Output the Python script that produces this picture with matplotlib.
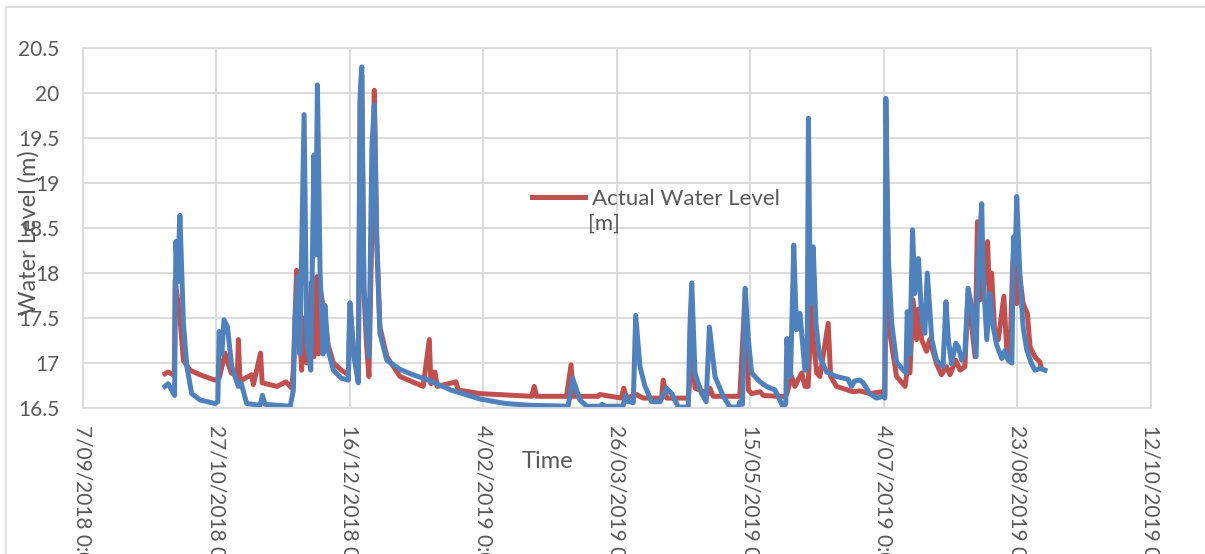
import pandas as pd
import matplotlib
matplotlib.use('Agg')
import matplotlib.pyplot as plt
import matplotlib.ticker as mticker
from matplotlib.patches import Rectangle

plt.rcParams['font.family'] = ['Lato', 'DejaVu Sans']

# start of the x axis, x values are days after this
start = pd.Timestamp('2018-09-07')
x_end = pd.Timestamp('2019-10-12')
tick_step_days = 50

# blue series (second water level series, no legend entry)
blue_day = [30.7, 31.9, 34.3, 34.8, 35.4, 36.3, 37.6, 38.9, 40.7, 43.8, 49.4, 50.5, 51.0, 52.0, 52.8,
            54.1, 55.7, 58.2, 59.2, 61.3, 66.3, 67.2, 68.2, 77.6, 78.8, 79.4, 80.6, 81.2, 82.8, 83.8,
            85.3, 86.5, 87.1, 87.8, 88.8, 89.9, 90.6, 91.8, 93.8, 96.8, 99.4, 99.7, 100.0, 101.5, 103.1,
            103.8, 104.4, 105.2, 106.2, 107.1, 108.2, 109.1, 110.0, 111.2, 113.8, 118.7, 123.5, 129.3,
            137.8, 148.7, 158.2, 167.3, 181.7, 183.4, 186.1, 188.7, 193.6, 194.4, 195.5, 202.2, 203.3,
            204.1, 206.1, 207.0, 208.6, 210.5, 213.0, 216.1, 218.6, 220.5, 223.0, 226.7, 227.3, 228.0,
            229.2, 231.7, 233.4, 234.6, 236.7, 239.8, 242.3, 245.4, 246.0, 247.0, 248.0, 249.2, 250.4,
            253.6, 256.0, 259.2, 262.2, 263.2, 263.6, 265.0, 266.2, 267.2, 268.5, 270.4, 271.2, 271.7,
            272.4, 273.5, 274.5, 275.9, 278.5, 282.1, 286.5, 287.8, 289.0, 291.0, 292.2, 294.7, 297.2,
            299.7, 300.3, 300.7, 301.6, 302.9, 304.7, 307.2, 308.2, 308.7, 309.7, 310.7, 311.5, 312.9,
            314.1, 315.3, 316.2, 317.9, 319.7, 322.1, 323.2, 324.1, 325.3, 326.9, 327.8, 329.1, 330.3,
            331.5, 332.9, 334.5, 335.3, 336.6, 337.1, 338.5, 339.7, 340.9, 342.2, 344.1, 345.3, 346.5,
            347.9, 348.5, 349.1, 349.7, 350.9, 352.1, 353.5, 355.3, 356.5, 358.4, 360.3]
blue_level = [16.74, 16.77, 16.64, 18.35, 17.90, 18.64, 17.44, 16.96, 16.66, 16.59, 16.55, 16.57, 17.35,
              17.10, 17.48, 17.40, 16.96, 16.74, 16.78, 16.55, 16.53, 16.64, 16.54, 16.52, 16.70, 17.51,
              17.96, 17.10, 19.76, 17.26, 16.92, 19.31, 18.20, 20.09, 18.00, 17.10, 17.64, 17.14, 16.92,
              16.83, 16.81, 17.37, 17.67, 17.07, 16.78, 19.96, 20.29, 17.85, 17.40, 17.07, 19.40, 19.87,
              18.37, 17.33, 17.03, 16.93, 16.87, 16.81, 16.70, 16.60, 16.55, 16.53, 16.52, 16.83, 16.59,
              16.52, 16.52, 16.54, 16.52, 16.52, 16.64, 16.57, 16.56, 17.53, 16.96, 16.74, 16.57, 16.57,
              16.72, 16.66, 16.51, 16.51, 17.40, 17.89, 16.89, 16.66, 16.57, 17.40, 16.85, 16.63, 16.51,
              16.51, 16.57, 16.54, 17.83, 17.26, 16.89, 16.79, 16.74, 16.70, 16.51, 16.55, 17.27, 16.85,
              18.31, 17.37, 17.55, 16.92, 16.95, 19.72, 17.66, 18.29, 17.44, 17.07, 16.90, 16.85, 16.82,
              16.74, 16.80, 16.81, 16.78, 16.66, 16.61, 16.63, 16.61, 19.94, 18.18, 17.44, 17.01, 16.92,
              16.89, 17.57, 17.10, 18.48, 17.77, 18.16, 17.51, 17.33, 18.00, 17.26, 17.03, 16.96, 17.68,
              17.26, 16.99, 17.22, 17.18, 17.03, 17.12, 17.83, 17.62, 17.07, 18.11, 18.77, 18.00, 17.26,
              17.77, 17.40, 17.20, 17.05, 17.14, 17.03, 17.00, 18.40, 18.10, 18.85, 17.96, 17.40, 17.14,
              16.99, 16.92, 16.94, 16.92]

# red series, actual water level [m]
red_day = [30.7, 31.9, 34.2, 34.5, 36.3, 37.6, 40.1, 43.8, 49.4, 51.0, 53.2, 55.5, 57.8, 58.2, 58.8,
           63.2, 63.8, 66.5, 67.1, 72.6, 76.0, 78.2, 78.8, 80.0, 81.9, 82.8, 83.8, 85.6, 86.5, 87.6,
           88.2, 89.0, 90.6, 91.8, 93.8, 96.8, 99.4, 100.0, 101.5, 103.1, 103.8, 104.4, 105.2, 106.2,
           107.1, 108.2, 109.1, 110.0, 111.2, 113.8, 118.7, 127.4, 129.7, 130.3, 131.8, 132.7, 139.7,
           140.5, 148.7, 168.1, 169.0, 169.9, 181.1, 182.8, 183.6, 192.9, 193.6, 201.7, 202.5, 203.6,
           207.3, 209.8, 216.7, 217.3, 218.6, 226.7, 228.4, 229.2, 234.2, 234.8, 236.0, 246.0, 248.0,
           249.2, 250.4, 253.6, 254.8, 259.8, 262.9, 263.6, 265.4, 266.6, 269.2, 270.4, 271.6, 272.9,
           273.5, 274.8, 276.0, 279.1, 280.0, 282.2, 288.5, 291.0, 294.7, 299.1, 300.3, 301.0, 302.2,
           304.7, 307.9, 308.7, 309.7, 310.9, 312.2, 312.9, 314.1, 315.9, 317.1, 319.7, 321.5, 323.4,
           324.7, 326.9, 328.5, 330.3, 331.5, 334.1, 335.0, 335.9, 337.1, 338.8, 339.7, 340.3, 341.5,
           342.8, 344.9, 345.9, 347.1, 348.2, 349.0, 349.7, 350.9, 352.1, 353.7, 354.7, 356.5, 358.4,
           359.0]
red_level = [16.88, 16.90, 16.86, 17.92, 17.51, 17.03, 16.92, 16.87, 16.81, 16.83, 17.11, 16.89, 16.85,
             17.26, 16.80, 16.87, 16.76, 17.11, 16.78, 16.74, 16.79, 16.72, 16.94, 18.03, 16.92, 17.50,
             17.00, 17.90, 17.07, 17.96, 17.10, 17.80, 17.50, 17.20, 17.00, 16.92, 16.87, 17.60, 17.10,
             16.85, 19.90, 20.20, 17.80, 17.20, 16.85, 18.50, 20.03, 18.40, 17.40, 17.07, 16.85, 16.74,
             17.26, 16.77, 16.90, 16.74, 16.79, 16.70, 16.66, 16.63, 16.74, 16.63, 16.63, 16.98, 16.63,
             16.63, 16.65, 16.61, 16.72, 16.61, 16.65, 16.61, 16.61, 16.81, 16.61, 16.61, 17.18, 16.72,
             16.66, 16.72, 16.63, 16.63, 17.78, 16.70, 16.66, 16.68, 16.64, 16.63, 16.63, 16.66, 16.85,
             16.74, 16.89, 16.74, 16.74, 17.66, 17.26, 16.89, 16.85, 17.44, 16.85, 16.74, 16.68, 16.69,
             16.66, 16.68, 16.64, 19.00, 17.33, 16.85, 16.74, 16.92, 16.89, 17.70, 17.26, 17.60, 17.26,
             17.13, 17.26, 16.99, 16.87, 16.96, 16.87, 17.03, 16.92, 16.96, 17.77, 17.07, 18.57, 17.70,
             17.77, 18.35, 17.51, 18.00, 17.33, 17.26, 17.74, 17.18, 17.03, 18.10, 18.40, 17.66, 17.96,
             17.66, 17.55, 17.18, 17.07, 17.01, 16.94]

y_ticks = [16.5, 17, 17.5, 18, 18.5, 19, 19.5, 20, 20.5]

red_t = start + pd.to_timedelta(red_day, unit='D')
blue_t = start + pd.to_timedelta(blue_day, unit='D')

grey = '#D9D9D9'
txt = '#595959'

fig = plt.figure(figsize=(12.05, 5.54), dpi=100)
# outer chart frame (right and bottom run off the picture)
fig.patches.append(Rectangle((6 / 1205, -0.2), 1.2, 1.2 - 7 / 554, transform=fig.transFigure,
                             fill=False, edgecolor=grey, linewidth=1.2))

ax = fig.add_axes([83 / 1205, 1 - 408 / 554, 1068 / 1205, 360 / 554])
ax.plot(red_t, red_level, color='#C0504D', lw=3.6, solid_joinstyle='round', label='Actual Water Level')
ax.plot(blue_t, blue_level, color='#4F81BD', lw=3.6, solid_joinstyle='round')

ticks = pd.date_range(start, x_end, freq=f'{tick_step_days}D')
ax.set_xlim(start, x_end)
ax.set_xticks(ticks)
ax.set_xticklabels([f'{d.day}/{d.month:02d}/{d.year} {d.hour}:{d.minute:02d}' for d in ticks],
                   rotation=270, ha='center', va='top')
ax.set_ylim(16.5, 20.5)
ax.set_yticks(y_ticks)
ax.yaxis.set_major_formatter(mticker.FuncFormatter(lambda v, p: f'{v:g}'))

ax.grid(True, color=grey, lw=1.3)
ax.set_axisbelow(True)
for s in ax.spines.values():
    s.set_color(grey)
    s.set_linewidth(1.3)
ax.tick_params(length=0, labelsize=15, colors=txt)
ax.tick_params(axis='y', pad=17)
ax.tick_params(axis='x', pad=12)

fig.text(29 / 1205, 1 - 233 / 554, 'Water Level (m)', rotation=90, ha='center', va='center',
         fontsize=17, color=txt)
fig.text(547 / 1205, 1 - 462 / 554, 'Time', ha='center', va='center', fontsize=17, color=txt)

ax.legend(loc='upper left', bbox_to_anchor=(440 / 1068, 1 - (180 - 48) / 360), frameon=False,
          fontsize=16, labelcolor=txt, handlelength=2.4, handletextpad=0.3, borderaxespad=0)
ax.text((588 - 83) / 1068, 1 - (224 - 48) / 360, '[m]', transform=ax.transAxes,
        ha='left', va='center', fontsize=16, color=txt)

fig.savefig('out.png', dpi=100)
